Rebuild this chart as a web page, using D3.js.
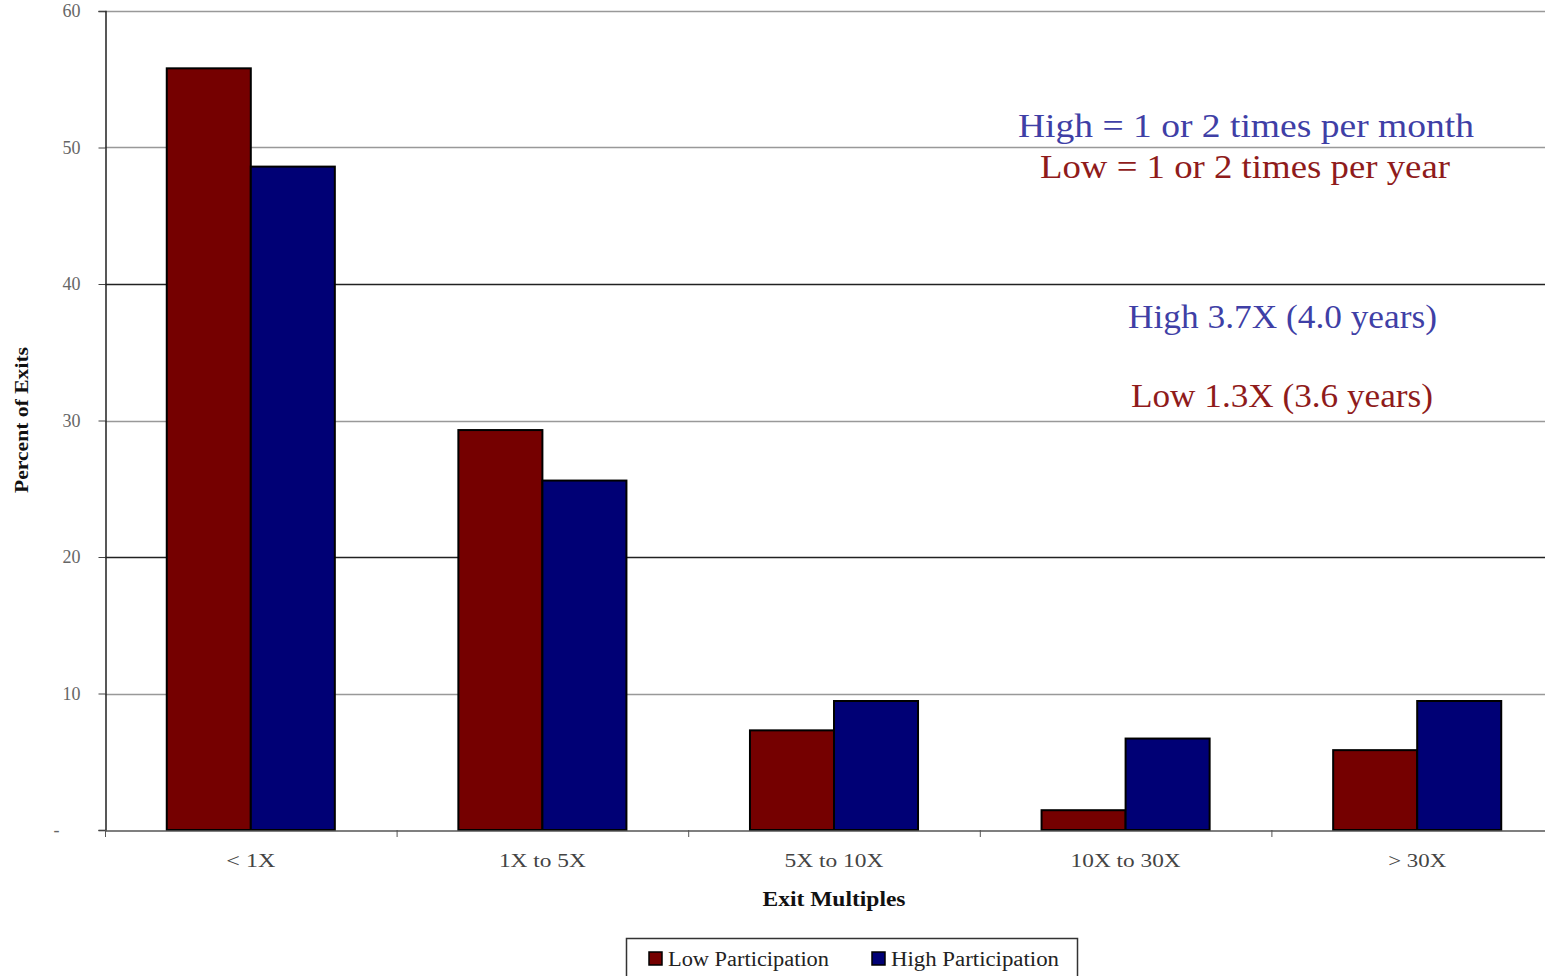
<!DOCTYPE html>
<html><head><meta charset="utf-8">
<script src="https://cdn.jsdelivr.net/npm/d3@7"></script>
<style>html,body{margin:0;padding:0;background:#fff;overflow:hidden}</style>
</head><body>
<svg id="c" width="1545" height="976"></svg>
<script>
const categories = ["< 1X", "1X to 5X", "5X to 10X", "10X to 30X", "> 30X"];
const seriesNames = ["Low Participation", "High Participation"];
const lowValues = [55.8, 29.3, 7.3, 1.45, 5.85];
const highValues = [48.6, 25.6, 9.45, 6.7, 9.45];
const yTicks = [0, 10, 20, 30, 40, 50, 60];
const yTickLabels = ["-", "10", "20", "30", "40", "50", "60"];
const notes = ["High = 1 or 2 times per month", "Low = 1 or 2 times per year", "High 3.7X (4.0 years)", "Low 1.3X (3.6 years)"];

(function(){
const colors = ["#750000", "#000075"];
const svg = d3.select("#c");
const font = "'Liberation Serif', 'DejaVu Serif', serif";
const pLeft = 105, pRight = 1563, pTop = 11, pBottom = 830;

const x = d3.scaleBand().domain(categories).range([pLeft, pRight]).paddingInner(0).paddingOuter(0);
const x1 = d3.scaleBand().domain(seriesNames).range([0, x.bandwidth()]).paddingInner(0).paddingOuter(0.735);
const y = d3.scaleLinear().domain([0, 60]).range([pBottom, pTop]);

// gridlines
const darker = new Set([20, 40]);
svg.append("g").selectAll("line").data(yTicks.filter(d => d > 0)).join("line")
  .attr("x1", pLeft).attr("x2", 1545)
  .attr("y1", d => Math.round(y(d)) + 0.5).attr("y2", d => Math.round(y(d)) + 0.5)
  .attr("stroke", d => darker.has(d) ? "#222" : "#999").attr("stroke-width", 1.3);

// y axis
const yAxis = d3.axisLeft(y).tickValues(yTicks).tickSize(7).tickPadding(18)
  .tickFormat((d, i) => yTickLabels[i]);
const gy = svg.append("g").attr("transform", `translate(${pLeft + 0.5},0)`).call(yAxis);
gy.select(".domain").attr("stroke", "#222").attr("stroke-width", 1.5);
gy.selectAll(".tick line").attr("stroke", "#444");
gy.selectAll("text").attr("font-family", font).attr("font-size", 18).attr("fill", "#666")
  .attr("dx", d => d === 0 ? -21 : 0);

// bars
const groups = svg.append("g").selectAll("g").data(categories).join("g")
  .attr("transform", d => `translate(${x(d)},0)`);
groups.selectAll("rect").data((d, i) => [
  {s: seriesNames[0], v: lowValues[i], c: colors[0]},
  {s: seriesNames[1], v: highValues[i], c: colors[1]}
]).join("rect")
  .attr("x", d => x1(d.s)).attr("width", x1.bandwidth())
  .attr("y", d => y(d.v)).attr("height", d => y(0) - y(d.v))
  .attr("fill", d => d.c).attr("stroke", "#000").attr("stroke-width", 2);

// x axis
const catW = [49, 87, 99, 110, 58];
const xAxis = d3.axisBottom(x).tickSize(0).tickPadding(24);
const gx = svg.append("g").attr("transform", `translate(0,${pBottom + 0.5})`).call(xAxis);
gx.select(".domain").attr("stroke", "#555").attr("stroke-width", 1.5);
gx.selectAll("text").attr("font-family", font).attr("font-size", 18).attr("fill", "#444")
  .attr("textLength", (d, i) => catW[i]).attr("lengthAdjust", "spacingAndGlyphs");
// category boundary ticks
svg.append("g").selectAll("line").data(categories).join("line")
  .attr("x1", d => x(d) + 0.5).attr("x2", d => x(d) + 0.5)
  .attr("y1", pBottom).attr("y2", pBottom + 7).attr("stroke", "#555");

// axis titles
svg.append("text").attr("x", 834).attr("y", 906).attr("text-anchor", "middle")
  .attr("font-family", font).attr("font-weight", "bold").attr("font-size", 20).attr("fill", "#111")
  .attr("textLength", 143).attr("lengthAdjust", "spacingAndGlyphs")
  .text("Exit Multiples");
svg.append("text").attr("transform", "translate(28,420) rotate(-90)").attr("text-anchor", "middle")
  .attr("font-family", font).attr("font-weight", "bold").attr("font-size", 19).attr("fill", "#111")
  .attr("textLength", 146).attr("lengthAdjust", "spacingAndGlyphs")
  .text("Percent of Exits");

// annotations
const noteColors = ["#3f3fa6", "#8f1b1b", "#3f3fa6", "#8f1b1b"];
const noteX = [1246, 1245, 1282.5, 1282];
const noteY = [137, 178, 328, 407];
const noteW = [456, 410, 309, 302];
svg.append("g").selectAll("text").data(notes).join("text")
  .attr("x", (d, i) => noteX[i]).attr("y", (d, i) => noteY[i]).attr("text-anchor", "middle")
  .attr("font-family", font).attr("font-size", 34).attr("fill", (d, i) => noteColors[i])
  .attr("textLength", (d, i) => noteW[i]).attr("lengthAdjust", "spacingAndGlyphs")
  .text(d => d);

// legend
const lg = svg.append("g");
lg.append("rect").attr("x", 626.5).attr("y", 938.5).attr("width", 451).attr("height", 50)
  .attr("fill", "#fff").attr("stroke", "#333").attr("stroke-width", 1.5);
const legX = [649, 872];
const legW = [161, 168];
seriesNames.forEach((s, i) => {
  lg.append("rect").attr("x", legX[i]).attr("y", 952).attr("width", 13).attr("height", 13)
    .attr("fill", colors[i]).attr("stroke", "#000").attr("stroke-width", 1.5);
  lg.append("text").attr("x", legX[i] + 19).attr("y", 966).attr("font-family", font)
    .attr("font-size", 20).attr("fill", "#222")
    .attr("textLength", legW[i]).attr("lengthAdjust", "spacingAndGlyphs").text(s);
});
})();
</script>
</body></html>
